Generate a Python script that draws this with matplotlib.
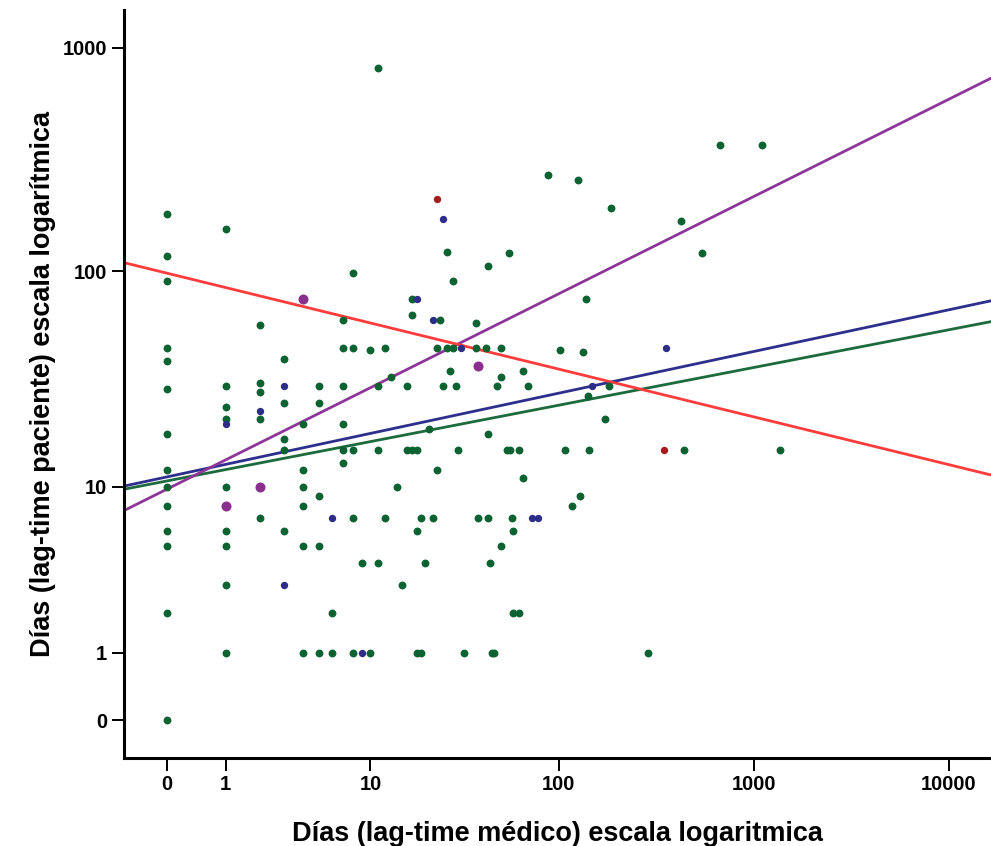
import matplotlib
matplotlib.use("Agg")
import matplotlib.pyplot as plt
import numpy as np

plt.rcParams['font.family'] = ['Liberation Sans Narrow', 'Liberation Sans', 'DejaVu Sans']
plt.rcParams['font.weight'] = 'bold'

# green group (days doctor, days patient)
green_x = [0]*14 + [1]*9 + [2]*5 + [3]*5 + [4]*6 + [5]*5 + [6]*2 + [7]*6 + [8]*5 + \
    [9, 10, 10, 11, 11, 11, 11, 12, 12, 13, 14, 15, 16, 16, 17, 17, 17, 18, 18, 18,
     19, 19, 20, 21, 22, 23, 23, 24, 25, 26, 26, 27, 28, 28, 29, 30, 32, 37, 37, 38,
     42, 43, 43, 43, 44, 45, 46, 48, 50, 50, 50, 54, 55, 56, 57, 58, 58, 62, 62, 65,
     65, 69, 88, 101, 108, 117, 126, 129, 134, 139, 141, 143, 173, 181, 186, 287, 427,
     439, 546, 675, 1100, 1366]
green_y = [180, 117, 90, 45, 39, 29, 18, 12, 10, 8, 6, 5, 2, 0,
           155, 30, 24, 21, 10, 6, 5, 3, 1,
           57, 31, 28, 21, 7,
           40, 25, 17, 15, 6,
           20, 12, 10, 8, 5, 1,
           30, 25, 9, 5, 1,
           2, 1,
           60, 45, 30, 20, 15, 13,
           98, 45, 15, 7, 1,
           4, 44, 1, 810, 30, 15, 4, 45, 7, 33, 10, 3, 30, 15, 75, 63, 15, 15, 6, 1,
           7, 1, 4, 19, 7, 45, 12, 60, 30, 122, 45, 35, 90, 45, 30, 15, 1, 58, 45, 7,
           45, 105, 18, 7, 4, 1, 1, 30, 45, 33, 5, 15, 121, 15, 7, 6, 2, 15, 2, 35,
           11, 30, 271, 44, 15, 8, 256, 9, 43, 75, 27, 15, 21, 30, 193, 1, 168,
           15, 121, 367, 367, 15]

blue_x = [25, 18, 22, 31, 3, 2, 1, 6, 3, 9, 73, 78, 149, 355]
blue_y = [171, 75, 60, 45, 30, 23, 20, 7, 3, 1, 7, 7, 30, 45]

purple_x = [4, 38, 2, 1]
purple_y = [75, 37, 10, 8]

red_x = [23, 350]
red_y = [211, 15]

# fitted lines in log10(v+1) space: intercept, slope
line_names = ['green', 'blue', 'purple', 'red']
line_intercepts = [1.067, 1.085, 1.030, 1.995]
line_slopes = [0.1688, 0.1866, 0.4354, -0.2138]
line_colors = ['#1c6b3c', '#2e2f8c', '#8e359a', '#ff3c3c']

x_ticks = [0, 1, 10, 100, 1000, 10000]
y_ticks = [0, 1, 10, 100, 1000]


def fwd(v):
    return np.log10(np.asarray(v, dtype=float) + 1)


def inv(v):
    return 10 ** np.asarray(v, dtype=float) - 1


fig = plt.figure(figsize=(9.91, 8.46), dpi=100)
ax = fig.add_axes([124 / 991, 88 / 846, 1 - 124 / 991, 748 / 846])
ax.set_xscale('function', functions=(fwd, inv))
ax.set_yscale('function', functions=(fwd, inv))

lx0, lx1 = -0.2184, 4.2148
ly0, ly1 = -0.1696, 3.1696
ax.set_xlim(inv(lx0), inv(lx1))
ax.set_ylim(inv(ly0), inv(ly1))

ax.scatter(green_x, green_y, s=32, color='#0d6232', linewidths=0, zorder=3)
ax.scatter(blue_x, blue_y, s=28, color='#2b2d86', linewidths=0, zorder=3)
ax.scatter(purple_x, purple_y, s=52, color='#8a2f8e', linewidths=0, zorder=3)
ax.scatter(red_x, red_y, s=28, color='#a51c1c', linewidths=0, zorder=3)

lx = np.linspace(lx0, lx1, 200)
for name, a, b, c in zip(line_names, line_intercepts, line_slopes, line_colors):
    ax.plot(inv(lx), inv(a + b * lx), color=c, linewidth=2.0, zorder=2)

ax.set_xticks(x_ticks)
ax.set_xticklabels([str(t) for t in x_ticks])
ax.set_yticks(y_ticks)
ax.set_yticklabels([str(t) for t in y_ticks])
ax.minorticks_off()

for s in ['top', 'right']:
    ax.spines[s].set_visible(False)
for s in ['left', 'bottom']:
    ax.spines[s].set_linewidth(2.2)
ax.tick_params(axis='both', direction='out', length=9, width=1.4, labelsize=14.5, pad=3)

ax.set_xlabel('Días (lag-time médico) escala logaritmica', fontsize=19.5, fontweight='bold', labelpad=20)
ax.set_ylabel('Días (lag-time paciente) escala logarítmica', fontsize=19.5, fontweight='bold', labelpad=5)

fig.savefig('out.png', dpi=100)
